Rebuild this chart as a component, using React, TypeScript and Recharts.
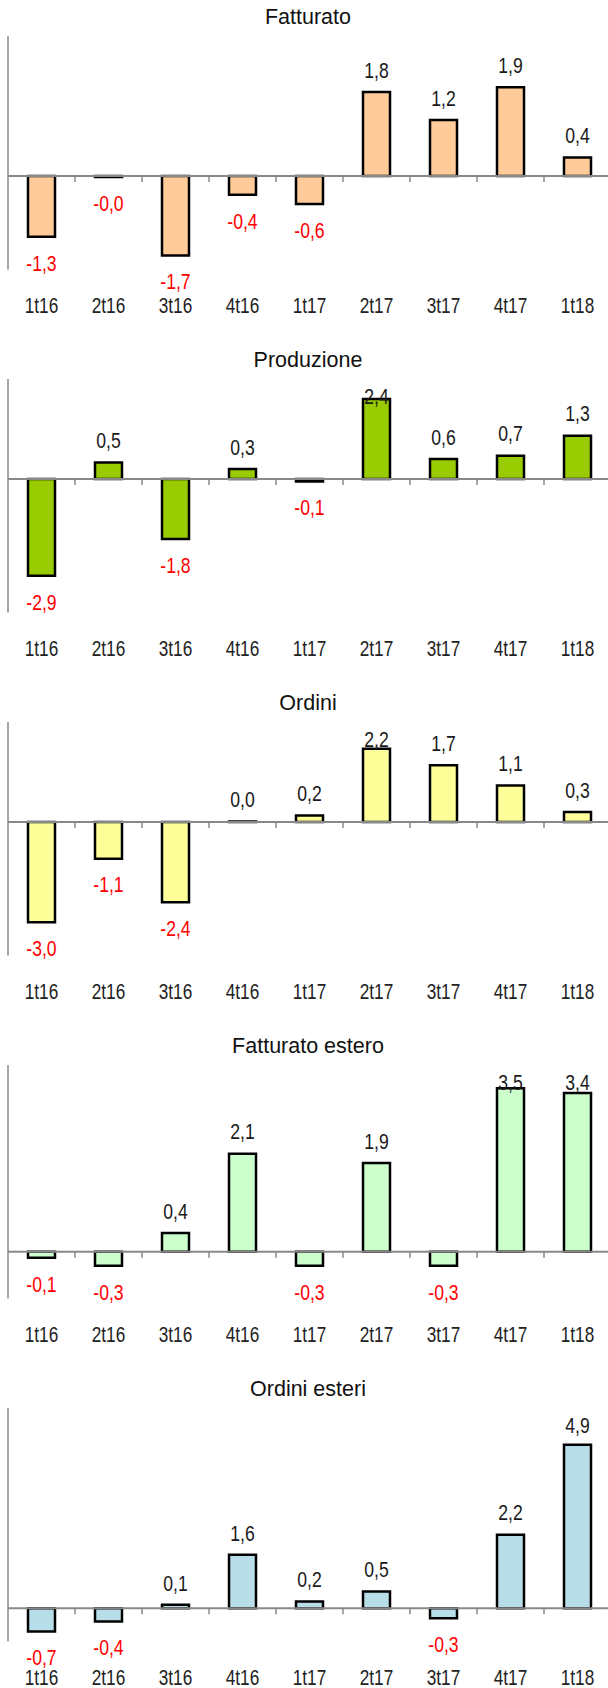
import { BarChart, Bar, XAxis, YAxis, ReferenceLine, LabelList } from "recharts"

// quarters shown under every panel
const categories = ["1t16", "2t16", "3t16", "4t16", "1t17", "2t17", "3t17", "4t17", "1t18"]

// % changes
const fatturato = [-1.3, -0.02, -1.7, -0.4, -0.6, 1.8, 1.2, 1.9, 0.4]
const produzione = [-2.9, 0.5, -1.8, 0.3, -0.07, 2.4, 0.6, 0.7, 1.3]
const ordini = [-3.0, -1.1, -2.4, 0.02, 0.2, 2.2, 1.7, 1.1, 0.3]
const fatturatoEstero = [-0.13, -0.3, 0.4, 2.1, -0.3, 1.9, -0.3, 3.5, 3.4]
const ordiniEsteri = [-0.7, -0.4, 0.1, 1.6, 0.2, 0.5, -0.3, 2.2, 4.9]

const panels = [
  { title: "Fatturato", values: fatturato, domain: [-2, 3], fill: "#FFCC99" },
  { title: "Produzione", values: produzione, domain: [-4, 3], fill: "#99CC00" },
  { title: "Ordini", values: ordini, domain: [-4, 3], fill: "#FFFF99" },
  { title: "Fatturato estero", values: fatturatoEstero, domain: [-1, 4], fill: "#CCFFCC" },
  { title: "Ordini esteri", values: ordiniEsteri, domain: [-1, 6], fill: "#B7DDE8" },
]

const FONT = "'Liberation Sans', Arial, sans-serif"
const PANEL_H = 343
const PLOT_TOP = 36

const fmt = (v: number) => v.toFixed(1).replace(".", ",")

// narrow text: regular sans squeezed horizontally
function NarrowText({ x, y, fill, size, children }: any) {
  return (
    <text
      transform={`translate(${x},${y}) scale(0.8,1)`}
      textAnchor="middle"
      dominantBaseline="central"
      fontFamily={FONT}
      fontSize={size}
      fill={fill}
    >
      {children}
    </text>
  )
}

function ValueLabel(props: any) {
  const { x, y, width, height, value } = props
  const top = Math.min(y, y + height)
  const bottom = Math.max(y, y + height)
  const neg = value < 0
  // labels that would run out of the plot are pushed inside it
  const ly = neg ? bottom + 26 : Math.max(top - 22, PLOT_TOP + 17)
  return (
    <NarrowText x={x + width / 2} y={ly} size={22} fill={neg ? "#FF0000" : "#1a1a1a"}>
      {fmt(value)}
    </NarrowText>
  )
}

function CatTick(props: any) {
  const { x, y, payload } = props
  return (
    <NarrowText x={x} y={y + 35.5} size={21.5} fill="#222">
      {payload.value}
    </NarrowText>
  )
}

// zero line with the small marks between categories
function ZeroLine(props: any) {
  const { x1, y1, x2, y2 } = props
  const step = (x2 - x1) / categories.length
  return (
    <g>
      {categories.slice(1).map((_, i) => (
        <line key={i} x1={x1 + step * (i + 1)} x2={x1 + step * (i + 1)} y1={y1} y2={y1 + 6} stroke="#888" strokeWidth={1.5} />
      ))}
      <line x1={x1} y1={y1} x2={x2} y2={y2} stroke="#888" strokeWidth={2} />
    </g>
  )
}

function Panel({ title, values, domain, fill }: any) {
  const data = categories.map((c, i) => ({ cat: c, v: values[i] }))
  return (
    <div style={{ position: "relative", width: 611, height: PANEL_H }}>
      <div
        style={{
          position: "absolute",
          top: 6,
          left: 8,
          width: 600,
          textAlign: "center",
          fontFamily: FONT,
          fontSize: 21.5,
          lineHeight: "22px",
          color: "#111",
        }}
      >
        {title}
      </div>
      <BarChart width={611} height={PANEL_H} data={data} margin={{ top: PLOT_TOP, right: 0, left: 0, bottom: 40 }}>
        <YAxis
          width={8}
          domain={domain}
          allowDataOverflow
          tick={false}
          tickLine={false}
          axisLine={{ stroke: "#888", strokeWidth: 1.5 }}
        />
        <XAxis dataKey="cat" height={33.5} axisLine={false} tickLine={false} tickSize={0} tickMargin={0} interval={0} tick={<CatTick />} />
        <Bar dataKey="v" fill={fill} stroke="#000" strokeWidth={2.5} barSize={27} isAnimationActive={false}>
          <LabelList dataKey="v" content={<ValueLabel />} />
        </Bar>
        <ReferenceLine y={0} shape={<ZeroLine />} />
      </BarChart>
    </div>
  )
}

export default function App() {
  return (
    <div style={{ position: "absolute", left: 0, top: 0, width: 608, height: 1688, overflow: "hidden", background: "#fff" }}>
      {panels.map((p) => (
        <Panel key={p.title} {...p} />
      ))}
    </div>
  )
}
